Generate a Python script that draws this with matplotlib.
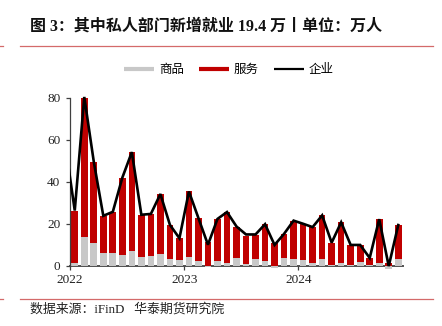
import matplotlib
matplotlib.use("Agg")
import matplotlib.pyplot as plt
import numpy as np
from matplotlib.lines import Line2D
from matplotlib.transforms import Bbox, TransformedBbox

plt.rcParams['font.family'] = ['Liberation Serif', 'Noto Sans CJK SC', 'DejaVu Sans']

# Monthly private payroll change, Jan 2022 - Nov 2024 (10k persons)
goods = [1.4, 13.9, 10.7, 5.9, 5.9, 5.3, 6.9, 4.0, 4.8, 5.6, 3.2, 2.7,
         4.0, 2.2, -0.8, 2.2, 1.1, 3.8, 0.6, 3.0, 2.4, -1.0, 3.5, 3.0,
         2.7, 1.1, 3.0, 0.2, 1.1, 0.3, 1.9, 0.3, 1.4, -1.5, 3.2]
services = [24.9, 66.1, 38.9, 17.9, 19.8, 36.7, 47.3, 20.3, 19.9, 28.6, 16.3, 10.4,
            31.4, 20.5, 11.5, 20.1, 24.5, 14.9, 13.6, 11.7, 17.4, 10.8, 11.7, 18.5,
            17.3, 17.3, 21.0, 10.8, 19.6, 9.4, 7.8, 3.4, 20.8, 1.3, 16.2]
# Private total, starting from Dec 2021
private_total = [58.0,
                 26.3, 80.5, 49.6, 23.8, 25.7, 42.0, 54.2, 24.3, 24.7, 34.2, 19.5, 13.1,
                 35.4, 22.7, 10.0, 22.3, 25.6, 18.7, 14.9, 14.9, 19.8, 9.9, 15.2, 21.5,
                 20.0, 18.4, 24.0, 11.0, 20.7, 9.9, 9.9, 3.7, 22.2, -0.2, 19.4]
year_labels = ['2022', '2023', '2024']
y_ticks = [0, 20, 40, 60, 80]

legend_names = ['商品', '服务', '企业']
c_goods = '#c8c8c8'
c_serv = '#c00000'
c_line = '#000000'

W, H = 442, 326
fig = plt.figure(figsize=(W / 100, H / 100), dpi=100)
ax = fig.add_axes([70 / W, (H - 265.7) / H, 333 / W, 167.7 / H])

n = len(goods)
x = np.arange(n) + 0.5
g = np.array(goods)
s = np.array(services)
g_pos = np.where(g > 0, g, 0)
g_neg = np.where(g < 0, g, 0)

ax.bar(x, g_pos, width=0.7, color=c_goods, linewidth=0, clip_on=False, zorder=2)
ax.bar(x, g_neg, width=0.7, color=c_goods, linewidth=0, clip_on=False, zorder=2)
ax.bar(x, s, width=0.7, bottom=g_pos, color=c_serv, linewidth=0, clip_on=False, zorder=2)

xl = np.arange(len(private_total)) - 0.5
ln, = ax.plot(xl, private_total, color=c_line, lw=1.9, solid_joinstyle='miter', zorder=3)
ln.set_clip_box(TransformedBbox(Bbox([[0, -0.06], [1, 1.02]]), ax.transAxes))

ax.set_xlim(0, 35)
ax.set_ylim(0, 80)
ax.set_xticks([0, 12, 24])
ax.set_xticklabels(year_labels)
ax.set_yticks(y_ticks)

for side in ['top', 'right']:
    ax.spines[side].set_visible(False)
ax.spines['left'].set_color('#404040')
ax.spines['left'].set_linewidth(0.9)
ax.spines['bottom'].set_color('#505050')
ax.spines['bottom'].set_linewidth(1.4)
ax.spines['bottom'].set_zorder(1)
ax.tick_params(axis='both', direction='out', length=3, width=0.9, color='#404040',
               labelsize=9.5, labelcolor='#222222')
ax.tick_params(axis='y', pad=4)
ax.tick_params(axis='x', pad=3)

handles = [Line2D([], [], color=c_goods, lw=3.0, solid_capstyle='butt'),
           Line2D([], [], color=c_serv, lw=3.0, solid_capstyle='butt'),
           Line2D([], [], color=c_line, lw=1.6, solid_capstyle='butt')]
fig.legend(handles, legend_names, loc='center', bbox_to_anchor=(229 / W, 1 - 69.5 / H),
           ncol=3, frameon=False, handlelength=2.4, handletextpad=0.4, columnspacing=1.2,
           prop={'family': ['Noto Sans CJK SC'], 'size': 9})

fig.text(30 / W, 1 - 27 / H, '图 3：其中私人部门新增就业 19.4 万丨单位：万人',
         ha='left', va='center', fontsize=11.5, fontweight='bold', color='#111111')
fig.text(30 / W, 1 - 309 / H, '数据来源：iFinD   华泰期货研究院',
         ha='left', va='center', fontsize=9.3, color='#222222')

rule_c = '#d46a6a'
for yy in (45.5, 299):
    fig.add_artist(Line2D([20 / W, 433 / W], [1 - yy / H] * 2, color=rule_c, lw=0.9))
    fig.add_artist(Line2D([0, 3 / W], [1 - yy / H] * 2, color=rule_c, lw=0.9))

fig.savefig('out.png', dpi=100)
